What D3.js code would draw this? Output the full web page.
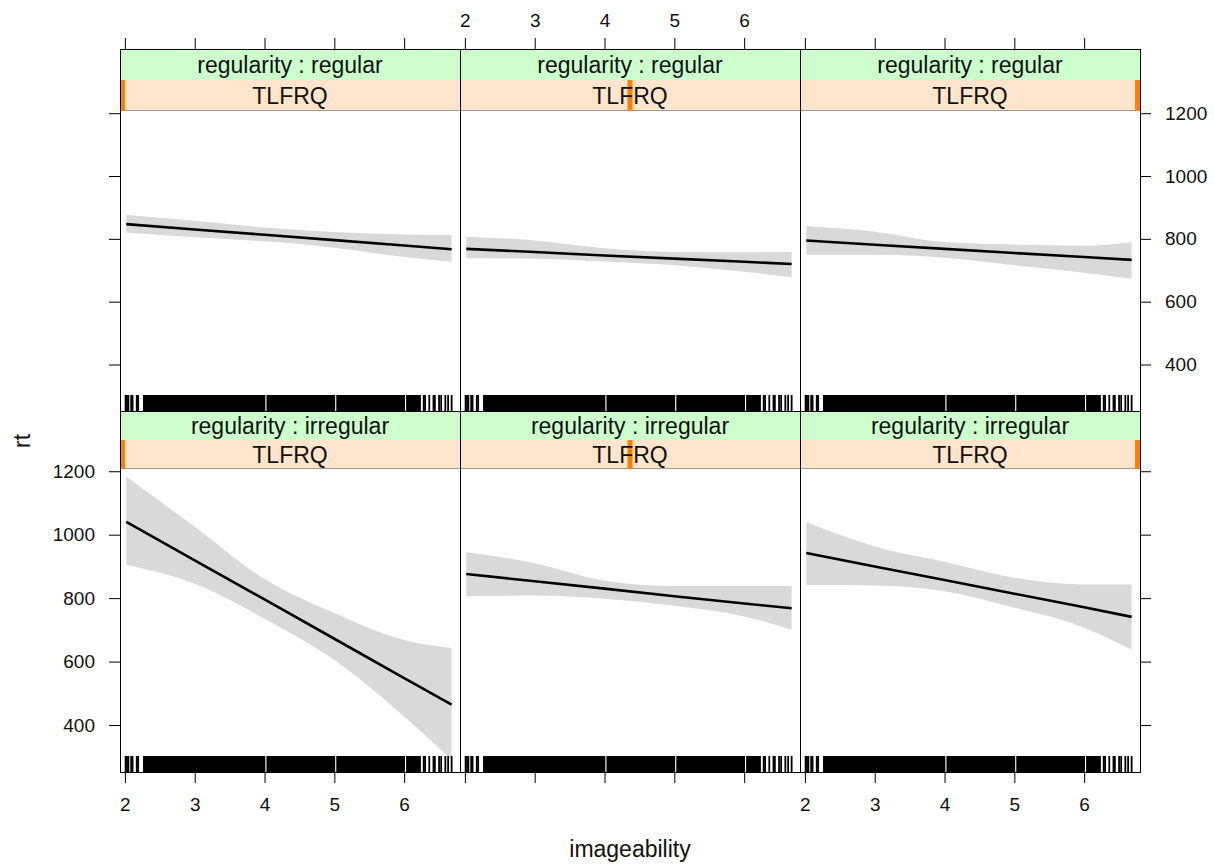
<!DOCTYPE html>
<html>
<head>
<meta charset="utf-8">
<script src="https://cdn.jsdelivr.net/npm/d3@7"></script>
<style>
  body { margin: 0; background: #fff; }
  text { font-family: "Liberation Sans", Arial, sans-serif; }
</style>
</head>
<body>
<svg id="chart" width="1214" height="866"></svg>
<script>
// tick labels
const xTicks = [2, 3, 4, 5, 6];
const yTicks = [400, 600, 800, 1000, 1200];

// strip labels
const regularity = ['regular', 'irregular'];
const tlfrqName = 'TLFRQ';
// where the TLFRQ value sits in its range, one per column
const tlfrqPos = [0, 0.5, 1];

// effect curves
const imageability = [2.02, 3, 4, 5, 6, 6.68];
// panels in reading order: regular (3 TLFRQ levels), then irregular
const fitRt = [
  [847, 830, 813, 796, 779, 767],
  [768, 758, 747, 737, 727, 720],
  [795, 781, 768, 755, 742, 733],
  [1040, 919, 796, 672, 548, 464],
  [876, 853, 830, 806, 783, 768],
  [942, 900, 857, 814, 771, 741]
];
const lowerRt = [
  [820, 805, 792, 772, 742, 727],
  [738, 737, 728, 716, 695, 678],
  [749, 749, 740, 716, 692, 673],
  [905, 845, 735, 605, 427, 290],
  [806, 808, 798, 776, 742, 701],
  [841, 840, 822, 770, 707, 637]
];
const upperRt = [
  [876, 858, 836, 822, 814, 812],
  [807, 795, 770, 758, 757, 759],
  [841, 823, 790, 782, 778, 789],
  [1183, 1025, 860, 753, 668, 643],
  [945, 910, 855, 838, 838, 838],
  [1040, 963, 915, 864, 843, 843]
];

// rug of imageability values: single ticks and solid runs
const rugTicks = [2.01, 2.03, 2.05, 2.09, 2.11, 2.17, 2.19,
  6.28, 6.30, 6.36, 6.42, 6.44, 6.50, 6.53, 6.59, 6.63, 6.68];
const rugRuns = [[2.26, 4.012], [4.028, 5.012], [5.028, 6.012], [6.028, 6.24]];

const svg = d3.select('#chart');

const colLeft = [120, 460, 800];
const colW = 340;
const rows = [
  { stripTop: 49, top: 111, bottom: 411 },
  { stripTop: 411, top: 469, bottom: 772 }
];
const xDomain = [1.93, 6.80];
const yDomain = [252, 1207];
const tick = 11;

const styleAxis = g => {
  g.select('.domain').remove();
  g.attr('font-size', null).attr('font-family', null);
  g.selectAll('line').attr('stroke', '#000');
  g.selectAll('text').attr('font-size', 19).attr('fill', '#111');
};

rows.forEach((row, r) => {
  const y = d3.scaleLinear().domain(yDomain).range([row.bottom, row.top]);
  const stripH = (row.top - row.stripTop) / 2;

  colLeft.forEach((left, c) => {
    const p = r * 3 + c;
    const x = d3.scaleLinear().domain(xDomain).range([left, left + colW]);
    const g = svg.append('g');

    g.append('clipPath').attr('id', 'clip' + p)
      .append('rect')
      .attr('x', left).attr('y', row.top)
      .attr('width', colW).attr('height', row.bottom - row.top);

    const body = g.append('g').attr('clip-path', `url(#clip${p})`);

    const pts = imageability.map((v, i) => ({ v, fit: fitRt[p][i], lo: lowerRt[p][i], hi: upperRt[p][i] }));

    body.append('path')
      .datum(pts)
      .attr('fill', '#d9d9d9')
      .attr('d', d3.area().curve(d3.curveMonotoneX)
        .x(d => x(d.v)).y0(d => y(d.lo)).y1(d => y(d.hi)));

    body.append('path')
      .datum(pts)
      .attr('fill', 'none')
      .attr('stroke', '#000')
      .attr('stroke-width', 2.6)
      .attr('d', d3.line().x(d => x(d.v)).y(d => y(d.fit)));

    // rug
    body.selectAll('.run')
      .data(rugRuns)
      .enter()
      .append('rect')
      .attr('x', d => x(d[0]))
      .attr('width', d => x(d[1]) - x(d[0]))
      .attr('y', row.bottom - 16)
      .attr('height', 16)
      .attr('fill', '#000');

    body.selectAll('.rugtick')
      .data(rugTicks)
      .enter()
      .append('line')
      .attr('x1', d => x(d)).attr('x2', d => x(d))
      .attr('y1', row.bottom - 16).attr('y2', row.bottom)
      .attr('stroke', '#000')
      .attr('stroke-width', 1.8);

    // strips
    g.append('rect')
      .attr('x', left).attr('y', row.stripTop)
      .attr('width', colW).attr('height', stripH)
      .attr('fill', '#ccffcc');
    g.append('rect')
      .attr('x', left).attr('y', row.stripTop + stripH)
      .attr('width', colW).attr('height', stripH)
      .attr('fill', '#ffe5cc');
    g.append('line')
      .attr('x1', left).attr('x2', left + colW)
      .attr('y1', row.top - 0.5).attr('y2', row.top - 0.5)
      .attr('stroke', '#999');

    const markW = 5;
    const markX = Math.max(left, Math.min(left + colW - markW, left + tlfrqPos[c] * colW - markW / 2));
    g.append('rect')
      .attr('x', markX).attr('y', row.stripTop + stripH)
      .attr('width', markW).attr('height', stripH)
      .attr('fill', '#ff7f00');

    g.append('text')
      .attr('x', left + colW / 2)
      .attr('y', row.stripTop + stripH / 2 + 8.3)
      .attr('text-anchor', 'middle')
      .attr('font-size', 23)
      .attr('fill', '#111')
      .text('regularity : ' + regularity[r]);

    g.append('text')
      .attr('x', left + colW / 2)
      .attr('y', row.stripTop + stripH * 1.5 + 8.3)
      .attr('text-anchor', 'middle')
      .attr('font-size', 23)
      .attr('fill', '#111')
      .text(tlfrqName);

    // frame
    g.append('rect')
      .attr('x', left + 0.5).attr('y', row.stripTop + 0.5)
      .attr('width', colW).attr('height', row.bottom - row.stripTop)
      .attr('fill', 'none')
      .attr('stroke', '#000');

    // x axes, alternating labels
    if (r === 0) {
      svg.append('g')
        .attr('transform', `translate(0,${row.stripTop})`)
        .call(d3.axisTop(x).tickValues(xTicks).tickSize(tick).tickPadding(11)
          .tickFormat(c === 1 ? d3.format('d') : () => ''))
        .call(styleAxis);
    } else {
      svg.append('g')
        .attr('transform', `translate(0,${row.bottom})`)
        .call(d3.axisBottom(x).tickValues(xTicks).tickSize(tick).tickPadding(15)
          .tickFormat(c !== 1 ? d3.format('d') : () => ''))
        .call(styleAxis);
    }
  });

  // y axes, alternating labels
  svg.append('g')
    .attr('transform', `translate(${colLeft[0]},0)`)
    .call(d3.axisLeft(y).tickValues(yTicks).tickSize(tick).tickPadding(14)
      .tickFormat(r === 1 ? d3.format('d') : () => ''))
    .call(styleAxis);

  svg.append('g')
    .attr('transform', `translate(${colLeft[2] + colW},0)`)
    .call(d3.axisRight(y).tickValues(yTicks).tickSize(tick).tickPadding(14)
      .tickFormat(r === 0 ? d3.format('d') : () => ''))
    .call(styleAxis);
});

svg.append('text')
  .attr('x', 630).attr('y', 857)
  .attr('text-anchor', 'middle')
  .attr('font-size', 23)
  .attr('fill', '#111')
  .text('imageability');

svg.append('text')
  .attr('transform', 'translate(30,441) rotate(-90)')
  .attr('text-anchor', 'middle')
  .attr('font-size', 23)
  .attr('fill', '#111')
  .text('rt');
</script>
</body>
</html>
